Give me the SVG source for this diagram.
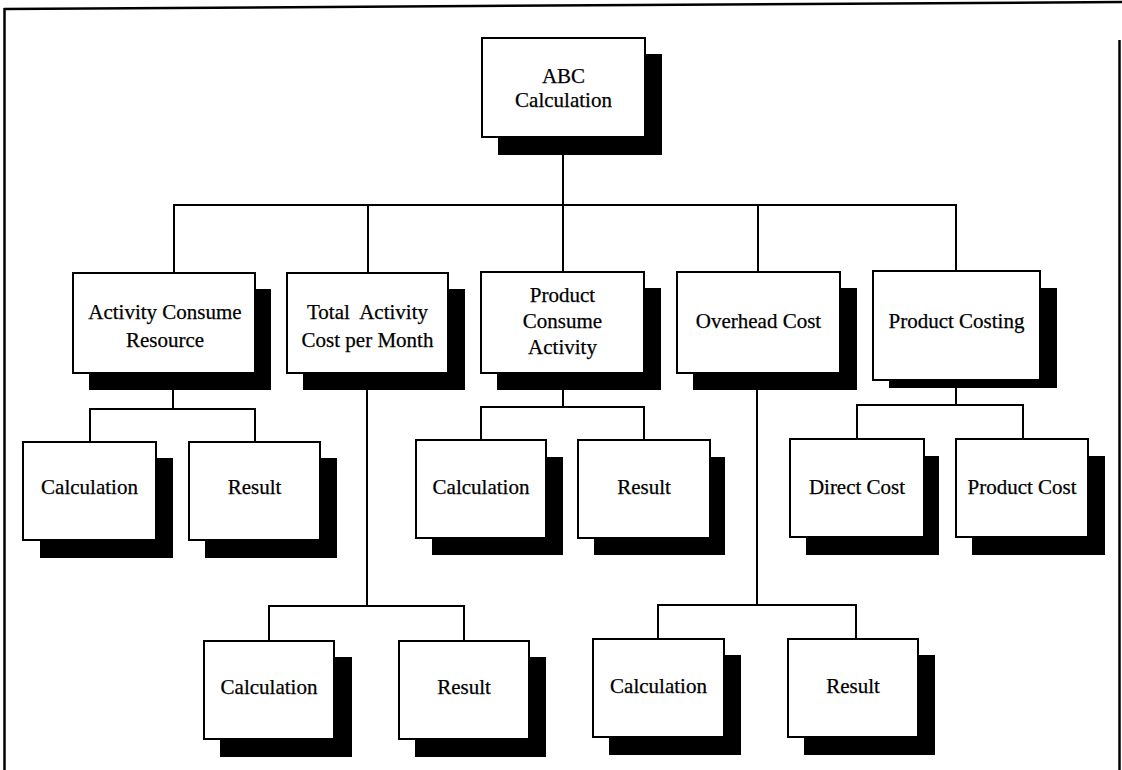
<svg xmlns="http://www.w3.org/2000/svg" width="1122" height="770" viewBox="0 0 1122 770">
<style>
.box{fill:#fff;stroke:#000;stroke-width:2}
.sh{fill:#000}
.ln{fill:none;stroke:#000;stroke-width:2}
.fr{fill:none;stroke:#000;stroke-width:2.5}
text{font-family:"Liberation Serif","Times New Roman",serif;font-size:21px;fill:#000;text-anchor:middle;stroke:#000;stroke-width:0.25}
</style>
<rect width="1122" height="770" fill="#fff"/>
<g id="frame">
<line class="fr" x1="4" y1="9" x2="1122" y2="2"/>
<line class="fr" x1="4.5" y1="8" x2="4.5" y2="770"/>
<line class="fr" x1="1119.5" y1="40" x2="1119.5" y2="770" stroke-width="1.5"/>
</g>
<g id="connectors">
<line class="ln" x1="563" y1="137" x2="563" y2="205"/>
<polyline class="ln" points="174,272 174,205 956,205 956,272"/>
<line class="ln" x1="368" y1="205" x2="368" y2="272"/>
<line class="ln" x1="563" y1="205" x2="563" y2="272"/>
<line class="ln" x1="758" y1="205" x2="758" y2="272"/>
<line class="ln" x1="173" y1="373" x2="173" y2="409"/>
<polyline class="ln" points="90,441 90,409 255,409 255,441"/>
<line class="ln" x1="563" y1="373" x2="563" y2="407"/>
<polyline class="ln" points="481,440 481,407 644,407 644,440"/>
<line class="ln" x1="956" y1="380" x2="956" y2="405"/>
<polyline class="ln" points="857,439 857,405 1023,405 1023,439"/>
<line class="ln" x1="367" y1="373" x2="367" y2="606"/>
<polyline class="ln" points="269,641 269,606 464,606 464,641"/>
<line class="ln" x1="757" y1="373" x2="757" y2="605"/>
<polyline class="ln" points="658,639 658,605 856,605 856,639"/>
</g>
<g id="n-abc">
<rect class="sh" x="498" y="54" width="164" height="101"/>
<rect class="box" x="482" y="38" width="163" height="99"/>
<text x="563.5" y="83">ABC</text>
<text x="563.5" y="107">Calculation</text>
</g>
<g id="n-acr">
<rect class="sh" x="89" y="289" width="182" height="101"/>
<rect class="box" x="73" y="273" width="182" height="100"/>
<text x="165" y="319">Activity Consume</text>
<text x="165" y="347">Resource</text>
</g>
<g id="n-tac">
<rect class="sh" x="303" y="289" width="162" height="101"/>
<rect class="box" x="287" y="273" width="161" height="100"/>
<text x="367.5" y="319" xml:space="preserve">Total  Activity</text>
<text x="367.5" y="347">Cost per Month</text>
</g>
<g id="n-pca">
<rect class="sh" x="497" y="288" width="164" height="102"/>
<rect class="box" x="481" y="272" width="163" height="101"/>
<text x="562.5" y="302">Product</text>
<text x="562.5" y="328">Consume</text>
<text x="562.5" y="354">Activity</text>
</g>
<g id="n-oc">
<rect class="sh" x="693" y="288" width="164" height="102"/>
<rect class="box" x="677" y="272" width="163" height="101"/>
<text x="758.5" y="328">Overhead Cost</text>
</g>
<g id="n-pc">
<rect class="sh" x="889" y="288" width="168" height="100"/>
<rect class="box" x="873" y="271" width="167" height="109"/>
<text x="956.5" y="328">Product Costing</text>
</g>
<g id="n-acr-calc">
<rect class="sh" x="40" y="458" width="133" height="100"/>
<rect class="box" x="23" y="442" width="133" height="98"/>
<text x="89.5" y="494">Calculation</text>
</g>
<g id="n-acr-res">
<rect class="sh" x="205" y="458" width="132" height="100"/>
<rect class="box" x="189" y="442" width="131" height="98"/>
<text x="254.5" y="494">Result</text>
</g>
<g id="n-pca-calc">
<rect class="sh" x="432" y="457" width="131" height="98"/>
<rect class="box" x="416" y="440" width="130" height="98"/>
<text x="481" y="494">Calculation</text>
</g>
<g id="n-pca-res">
<rect class="sh" x="594" y="457" width="131" height="98"/>
<rect class="box" x="578" y="440" width="132" height="98"/>
<text x="644" y="494">Result</text>
</g>
<g id="n-direct">
<rect class="sh" x="806" y="456" width="133" height="99"/>
<rect class="box" x="790" y="439" width="134" height="98"/>
<text x="857" y="494">Direct Cost</text>
</g>
<g id="n-prodcost">
<rect class="sh" x="972" y="456" width="133" height="99"/>
<rect class="box" x="956" y="439" width="132" height="98"/>
<text x="1022" y="494">Product Cost</text>
</g>
<g id="n-tac-calc">
<rect class="sh" x="220" y="657" width="132" height="100"/>
<rect class="box" x="204" y="641" width="130" height="98"/>
<text x="269" y="694">Calculation</text>
</g>
<g id="n-tac-res">
<rect class="sh" x="415" y="657" width="131" height="100"/>
<rect class="box" x="399" y="641" width="130" height="98"/>
<text x="464" y="694">Result</text>
</g>
<g id="n-oc-calc">
<rect class="sh" x="609" y="655" width="132" height="100"/>
<rect class="box" x="593" y="639" width="131" height="98"/>
<text x="658.5" y="693">Calculation</text>
</g>
<g id="n-oc-res">
<rect class="sh" x="804" y="655" width="131" height="100"/>
<rect class="box" x="788" y="639" width="130" height="98"/>
<text x="853" y="693">Result</text>
</g>
</svg>
